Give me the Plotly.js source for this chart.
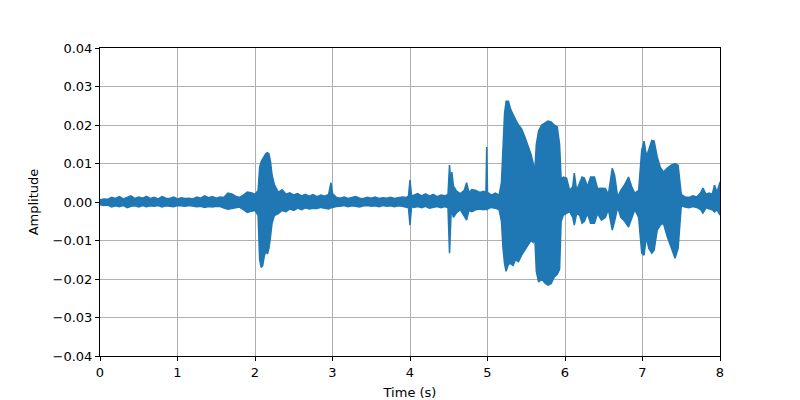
<!DOCTYPE html>
<html>
<head>
<meta charset="utf-8">
<script src="https://cdn.plot.ly/plotly-3.0.1.min.js"></script>
<style>html,body{margin:0;padding:0;background:#fff;}#chart{width:800px;height:400px;}</style>
</head>
<body>
<div id="chart"></div>
<script>
// Envelope of the waveform: time (s), upper and lower amplitude
const quietTimes = [0,0.05,0.1,0.15,0.2,0.25,0.3,0.35,0.4,0.45,0.5,0.55,0.6,0.65,0.7,0.75,0.8,0.85,0.9,0.95,1.0,1.05,1.1,1.15,1.2,1.25,1.3,1.35,1.4,1.45,1.5,1.55,1.6,1.65,1.7,1.75,1.8,1.85,1.9,1.95];
const quietUpper = [0.0006,0.0008,0.0007,0.0012,0.0009,0.0014,0.0008,0.0011,0.0016,0.0009,0.0013,0.0010,0.0015,0.0009,0.0012,0.0008,0.0014,0.0010,0.0009,0.0013,0.0008,0.0011,0.0009,0.0010,0.0008,0.0013,0.0010,0.0016,0.0011,0.0014,0.0010,0.0013,0.0012,0.0023,0.0021,0.0015,0.0012,0.0018,0.0026,0.0024];
const quietLower = [-0.0007,-0.0009,-0.0008,-0.0013,-0.0010,-0.0012,-0.0009,-0.0015,-0.0011,-0.0010,-0.0013,-0.0009,-0.0012,-0.0010,-0.0011,-0.0009,-0.0013,-0.0010,-0.0011,-0.0012,-0.0009,-0.0010,-0.0011,-0.0009,-0.0010,-0.0012,-0.0011,-0.0014,-0.0012,-0.0013,-0.0011,-0.0012,-0.0016,-0.0019,-0.0017,-0.0014,-0.0013,-0.0020,-0.0027,-0.0024];

const timesA = [2.00,2.04,2.06,2.08,2.10,2.12,2.14,2.16,2.18,2.20,2.22,2.25,2.30,2.35,2.40,2.45,2.50,2.55,2.60,2.65,2.70,2.75,2.80,2.85,2.90,2.95,2.98,3.00,3.05,
  3.10,3.15,3.20,3.25,3.30,3.35,3.40,3.45,3.50,3.55,3.60,3.65,3.70,3.75,3.80,3.85,3.90,3.95];
const upperA = [0.0020,0.0030,0.0090,0.0105,0.0112,0.0120,0.0126,0.0128,0.0125,0.0105,0.0070,0.0045,0.0025,0.0032,0.0020,0.0024,0.0018,0.0022,0.0016,0.0020,0.0015,0.0019,0.0014,0.0018,0.0015,0.0020,0.0050,0.0022,0.0012,
  0.0010,0.0013,0.0009,0.0011,0.0014,0.0010,0.0009,0.0012,0.0010,0.0013,0.0009,0.0011,0.0010,0.0012,0.0009,0.0011,0.0013,0.0012];
const lowerA = [-0.0022,-0.0035,-0.0150,-0.0170,-0.0165,-0.0140,-0.0128,-0.0135,-0.0120,-0.0090,-0.0055,-0.0035,-0.0030,-0.0022,-0.0025,-0.0018,-0.0022,-0.0016,-0.0020,-0.0015,-0.0018,-0.0016,-0.0017,-0.0014,-0.0016,-0.0018,-0.0015,-0.0014,-0.0012,
  -0.0011,-0.0009,-0.0012,-0.0010,-0.0011,-0.0013,-0.0010,-0.0009,-0.0011,-0.0010,-0.0012,-0.0009,-0.0011,-0.0010,-0.0012,-0.0010,-0.0011,-0.0013];

const timesB = [3.98,4.00,4.02,4.05,4.10,4.15,4.20,4.25,4.30,4.35,4.40,4.45,4.49,4.51,4.53,4.54,4.56,4.60,4.65,4.70,4.73,4.76,4.80,4.85,4.90,4.95,4.98,4.99,5.00,5.05,5.10,5.15];
const upperB = [0.0015,0.0057,0.0015,0.0018,0.0022,0.0016,0.0021,0.0015,0.0020,0.0014,0.0018,0.0016,0.0020,0.0096,0.0040,0.0078,0.0042,0.0028,0.0022,0.0030,0.0050,0.0025,0.0032,0.0030,0.0025,0.0028,0.0025,0.0143,0.0025,0.0018,0.0023,0.0018];
const lowerB = [-0.0015,-0.0060,-0.0012,-0.0014,-0.0012,-0.0015,-0.0011,-0.0016,-0.0013,-0.0012,-0.0015,-0.0012,-0.0015,-0.0133,-0.0030,-0.0025,-0.0040,-0.0028,-0.0020,-0.0035,-0.0047,-0.0022,-0.0025,-0.0020,-0.0018,-0.0020,-0.0018,-0.0020,-0.0018,-0.0014,-0.0016,-0.0020];

const timesC = [5.18,5.20,5.22,5.24,5.27,5.30,5.33,5.36,5.40,5.44,5.48,5.52,5.56,5.59,5.61,5.63,5.66,5.70,5.74,5.78,5.82,5.86,5.90,5.93,5.95,5.98,6.02,6.06,6.10,6.12,6.15,6.19,6.22,6.25,6.29,6.33,6.38,6.42,6.47,6.52,6.56,6.61,6.64,6.68,6.72,6.77,6.82,6.86,6.90,6.95];
const upperC = [0.0050,0.0140,0.0230,0.0262,0.0262,0.0240,0.0225,0.0215,0.0200,0.0190,0.0170,0.0150,0.0125,0.0100,0.0078,0.0150,0.0185,0.0200,0.0205,0.0210,0.0208,0.0200,0.0195,0.0150,0.0060,0.0065,0.0062,0.0030,0.0040,0.0075,0.0030,0.0050,0.0065,0.0062,0.0040,0.0065,0.0065,0.0035,0.0036,0.0035,0.0020,0.0088,0.0070,0.0013,0.0030,0.0045,0.0065,0.0040,0.0023,0.0030];
const lowerC = [-0.0050,-0.0120,-0.0160,-0.0180,-0.0162,-0.0160,-0.0165,-0.0150,-0.0155,-0.0138,-0.0125,-0.0110,-0.0100,-0.0105,-0.0090,-0.0180,-0.0208,-0.0200,-0.0210,-0.0216,-0.0212,-0.0195,-0.0188,-0.0175,-0.0050,-0.0034,-0.0030,-0.0025,-0.0040,-0.0060,-0.0030,-0.0035,-0.0055,-0.0050,-0.0030,-0.0055,-0.0055,-0.0030,-0.0047,-0.0040,-0.0020,-0.0073,-0.0050,-0.0013,-0.0040,-0.0050,-0.0065,-0.0040,-0.0020,-0.0040];

const timesD = [6.99,7.02,7.05,7.08,7.12,7.15,7.19,7.23,7.27,7.32,7.37,7.42,7.46,7.50,7.55,7.60,7.65,7.70,7.75,7.78,7.82,7.86,7.90,7.93,7.96,8.00];
const upperD = [0.0135,0.0158,0.0120,0.0135,0.0160,0.0158,0.0117,0.0090,0.0078,0.0088,0.0096,0.0100,0.0095,0.0020,0.0013,0.0012,0.0016,0.0013,0.0024,0.0036,0.0020,0.0023,0.0020,0.0044,0.0025,0.0052];
const lowerD = [-0.0133,-0.0138,-0.0090,-0.0120,-0.0133,-0.0125,-0.0073,-0.0060,-0.0055,-0.0090,-0.0117,-0.0146,-0.0120,-0.0010,-0.0013,-0.0015,-0.0012,-0.0014,-0.0020,-0.0029,-0.0015,-0.0018,-0.0020,-0.0026,-0.0020,-0.0034];

const xTickVals = [0,1,2,3,4,5,6,7,8];
const yTickVals = [-0.04,-0.03,-0.02,-0.01,0,0.01,0.02,0.03,0.04];

const t = [].concat(quietTimes, timesA, timesB, timesC, timesD);
const up = [].concat(quietUpper, upperA, upperB, upperC, upperD);
const lo = [].concat(quietLower, lowerA, lowerB, lowerC, lowerD);

const blue = '#1f77b4';
const traces = [
  {x: t, y: lo, type: 'scatter', mode: 'lines', line: {color: blue, width: 1.5}, hoverinfo: 'skip', showlegend: false},
  {x: t, y: up, type: 'scatter', mode: 'lines', fill: 'tonexty', fillcolor: blue, line: {color: blue, width: 1.5}, hoverinfo: 'skip', showlegend: false}
];

const axisCommon = {
  showline: true, linecolor: '#000', linewidth: 1, mirror: true,
  ticks: 'outside', ticklen: 4, tickcolor: '#000', tickwidth: 1,
  showgrid: true, gridcolor: '#b0b0b0', gridwidth: 1,
  zeroline: false,
  tickfont: {family: 'DejaVu Sans', size: 13, color: '#000'}
};

const layout = {
  width: 800, height: 400,
  margin: {l: 100, r: 80, t: 48, b: 44, pad: 0},
  paper_bgcolor: '#fff', plot_bgcolor: '#fff',
  showlegend: false,
  xaxis: Object.assign({}, axisCommon, {
    range: [0, 8], tickvals: xTickVals, ticktext: xTickVals.map(String),
    title: {text: 'Time (s)', font: {family: 'DejaVu Sans', size: 13, color: '#000'}, standoff: 9}
  }),
  yaxis: Object.assign({}, axisCommon, {
    range: [-0.04, 0.04], tickvals: yTickVals, tickformat: '.2f',
    title: {text: 'Amplitude', font: {family: 'DejaVu Sans', size: 13, color: '#000'}, standoff: 11}
  })
};

Plotly.newPlot('chart', traces, layout, {displayModeBar: false, staticPlot: true});
</script>
</body>
</html>
